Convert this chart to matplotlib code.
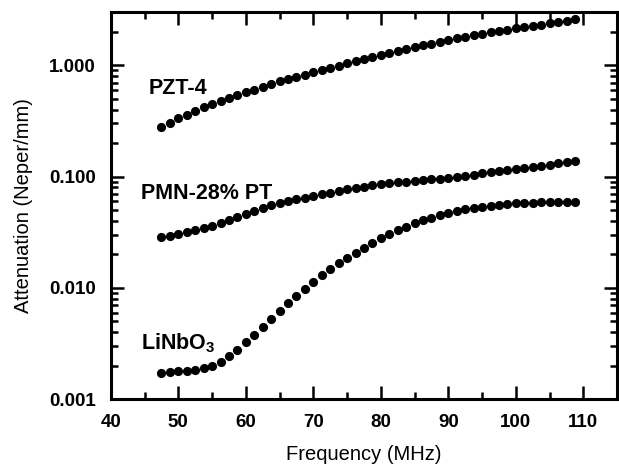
import numpy as np
import matplotlib
matplotlib.use('Agg')
import matplotlib.pyplot as plt
from matplotlib.ticker import FixedLocator, LogLocator, FuncFormatter, NullFormatter

plt.rcParams['font.family'] = ['Liberation Sans', 'DejaVu Sans']
plt.rcParams['mathtext.fontset'] = 'custom'
plt.rcParams['mathtext.rm'] = 'Liberation Sans'
plt.rcParams['mathtext.bf'] = 'Liberation Sans:bold'

# frequency (MHz), one dot per 1.25 MHz
freq = [47.5, 48.75, 50.0, 51.25, 52.5, 53.75, 55.0, 56.25, 57.5, 58.75,
        60.0, 61.25, 62.5, 63.75, 65.0, 66.25, 67.5, 68.75, 70.0, 71.25,
        72.5, 73.75, 75.0, 76.25, 77.5, 78.75, 80.0, 81.25, 82.5, 83.75,
        85.0, 86.25, 87.5, 88.75, 90.0, 91.25, 92.5, 93.75, 95.0, 96.25,
        97.5, 98.75, 100.0, 101.25, 102.5, 103.75, 105.0, 106.25, 107.5, 108.75]

pzt4 = [0.277, 0.306, 0.334, 0.361, 0.389, 0.419, 0.451, 0.479, 0.508, 0.540,
        0.573, 0.605, 0.640, 0.676, 0.715, 0.750, 0.785, 0.824, 0.865, 0.906,
        0.948, 0.995, 1.042, 1.089, 1.138, 1.186, 1.239, 1.288, 1.340, 1.393,
        1.449, 1.507, 1.563, 1.626, 1.687, 1.742, 1.799, 1.858, 1.919, 1.972,
        2.028, 2.084, 2.143, 2.198, 2.259, 2.317, 2.377, 2.449, 2.523, 2.600]

pmn28 = [0.0287, 0.0294, 0.0303, 0.0316, 0.0330, 0.0345, 0.0361, 0.0384, 0.0408, 0.0436,
         0.0465, 0.0492, 0.0520, 0.0551, 0.0582, 0.0604, 0.0625, 0.0647, 0.0668, 0.0692,
         0.0716, 0.0741, 0.0767, 0.0791, 0.0813, 0.0838, 0.0861, 0.0875, 0.0887, 0.0897,
         0.0910, 0.0925, 0.0942, 0.0957, 0.0975, 0.0998, 0.1021, 0.1042, 0.1067, 0.1089,
         0.1112, 0.1135, 0.1159, 0.1189, 0.1219, 0.1250, 0.1282, 0.1312, 0.1346, 0.1387]

linbo3 = [0.00172, 0.00175, 0.00178, 0.00180, 0.00184, 0.00190, 0.00200, 0.00218, 0.00246, 0.00278,
          0.00327, 0.00380, 0.00447, 0.00525, 0.00622, 0.00728, 0.00851, 0.00982, 0.01127, 0.01294,
          0.01472, 0.01660, 0.01854, 0.02065, 0.02291, 0.02529, 0.02786, 0.03041, 0.03296, 0.03548,
          0.03802, 0.04046, 0.04285, 0.04508, 0.04721, 0.04909, 0.05082, 0.05236, 0.05370, 0.05483,
          0.05585, 0.05675, 0.05741, 0.05794, 0.05834, 0.05861, 0.05888, 0.05902, 0.05916, 0.05929]

fig = plt.figure(figsize=(6.19, 4.68), dpi=100)
ax = fig.add_axes([0.179, 0.147, 0.818, 0.827])

for y in (pzt4, pmn28, linbo3):
    ax.plot(freq, y, 'o', color='black', markersize=6.6, markeredgewidth=0)

ax.set_yscale('log')
ax.set_xlim(40, 115)
ax.set_ylim(0.001, 3)

ax.xaxis.set_major_locator(FixedLocator([40, 50, 60, 70, 80, 90, 100, 110]))
ax.xaxis.set_minor_locator(FixedLocator([45, 55, 65, 75, 85, 95, 105]))
ax.yaxis.set_major_locator(FixedLocator([0.001, 0.01, 0.1, 1.0]))
ax.yaxis.set_minor_locator(LogLocator(base=10, subs=np.arange(2, 10)))
ax.yaxis.set_major_formatter(FuncFormatter(lambda v, p: '%.3f' % v))
ax.yaxis.set_minor_formatter(NullFormatter())

ax.tick_params(which='both', direction='in', top=True, right=True, width=1.8)
ax.tick_params(which='major', length=9.5)
ax.tick_params(which='minor', length=5)
ax.tick_params(axis='x', which='major', pad=11, labelsize=13.5)
ax.tick_params(axis='y', which='major', pad=11, labelsize=13.5)
for lab in ax.get_xticklabels() + ax.get_yticklabels():
    lab.set_fontweight('bold')
for s in ax.spines.values():
    s.set_linewidth(2.2)

ax.set_xlabel('Frequency (MHz)', fontsize=14.5, labelpad=10)
ax.set_ylabel('Attenuation (Neper/mm)', fontsize=14.5, labelpad=11)

ax.text(45.6, 0.62, 'PZT-4', fontsize=15.5, fontweight='bold', va='center')
ax.text(44.5, 0.071, 'PMN-28% PT', fontsize=15.5, fontweight='bold', va='center')
ax.text(44.5, 0.0032, r'LiNbO$_\mathbf{3}$', fontsize=15.5, fontweight='bold', va='center')

fig.savefig('out.png', dpi=100)
